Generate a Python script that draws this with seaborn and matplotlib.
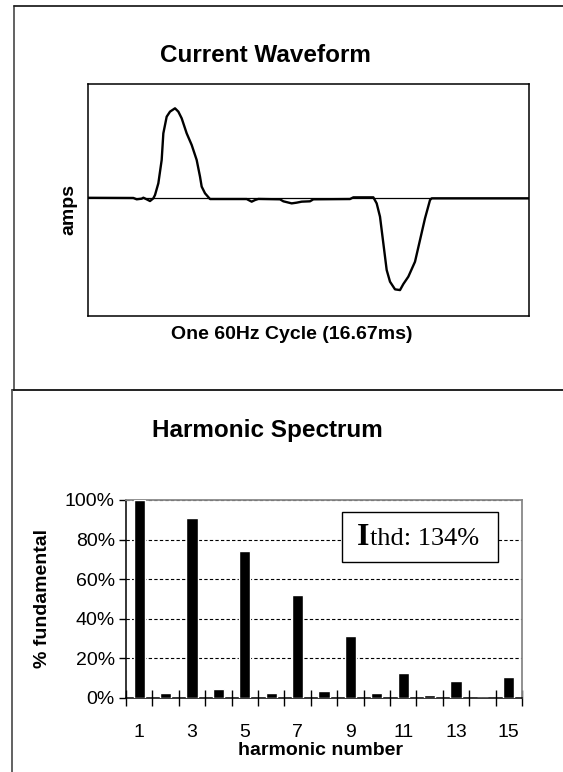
import numpy as np
import matplotlib
matplotlib.use("Agg")
import matplotlib.pyplot as plt
from matplotlib.lines import Line2D
from matplotlib.patches import Rectangle
from matplotlib.offsetbox import TextArea, HPacker, AnchoredOffsetbox
import seaborn as sns

# Current waveform over one 60Hz cycle (time in ms, amps normalised to peak)
wave_t = [0.0, 1.714, 1.840, 2.029, 2.092, 2.218, 2.344, 2.470, 2.533, 2.659,
          2.785, 2.848, 2.974, 3.100, 3.289, 3.415, 3.541, 3.730, 3.919, 4.108,
          4.234, 4.297, 4.423, 4.612, 5.998, 6.187, 6.313, 6.439, 7.258, 7.384,
          7.699, 7.888, 8.077, 8.392, 8.518, 9.904, 10.030, 10.534, 10.786, 10.912,
          11.038, 11.164, 11.290, 11.416, 11.605, 11.794, 11.920, 12.109, 12.361,
          12.550, 12.739, 12.928, 12.991, 16.67]
wave_amps = [0.006, 0.004, -0.011, -0.004, 0.007, -0.011, -0.030, 0.0, 0.037, 0.167,
             0.426, 0.722, 0.907, 0.963, 1.0, 0.963, 0.889, 0.722, 0.593, 0.426,
             0.241, 0.130, 0.056, -0.008, -0.008, -0.037, -0.019, -0.007, -0.011, -0.033,
             -0.056, -0.048, -0.037, -0.033, -0.011, -0.008, 0.011, 0.011, 0.011, -0.056,
             -0.204, -0.500, -0.796, -0.926, -1.011, -1.019, -0.952, -0.870, -0.704,
             -0.463, -0.222, -0.019, 0.0, 0.0]

# Harmonic spectrum (% of fundamental)
harmonic_order = [str(n) for n in range(1, 16)]
harmonic_pct = [100, 2.5, 91, 4.5, 74, 2.5, 52, 3.5, 31.5, 2.5, 12.5, 1.5, 8.5, 0, 10.5]
pct_ticks = [0, 20, 40, 60, 80, 100]
thd_value = "134%"

sns.set_theme(style="white")
plt.rcParams["font.family"] = ["Liberation Sans", "DejaVu Sans"]
plt.rcParams.update({
    "text.color": "black",
    "axes.labelcolor": "black",
    "xtick.color": "black",
    "ytick.color": "black",
})

W, H = 563, 772
fig = plt.figure(figsize=(W / 100, H / 100), dpi=100)


def fx(px):
    return px / W


def fy(py):
    return 1 - py / H


# panel frames
frame_kw = dict(transform=fig.transFigure, lw=1.3)
fig.add_artist(Line2D([fx(14), fx(14)], [fy(6), fy(390)], color="#555555", **frame_kw))
fig.add_artist(Line2D([fx(14), 1], [fy(6), fy(6)], color="#222222", **frame_kw))
fig.add_artist(Line2D([fx(12), 1], [fy(390), fy(390)], color="#111111", **frame_kw))
fig.add_artist(Line2D([fx(12), fx(12)], [fy(390), 0], color="#555555", **frame_kw))

# ---- top: current waveform ----
ax1 = fig.add_axes([fx(88), fy(316), fx(529 - 88), (316 - 84) / H])
sns.lineplot(x=wave_t, y=wave_amps, color="black", lw=1.7, ax=ax1, sort=False)
ax1.axhline(0, color="black", lw=0.9, zorder=1)
ax1.set_xlim(0, 16.67)
ax1.set_ylim(-1.307, 1.27)
ax1.set_xticks([])
ax1.set_yticks([])
for sp in ax1.spines.values():
    sp.set_visible(True)
    sp.set_color("black")
    sp.set_linewidth(1.1)
ax1.set_xlabel("One 60Hz Cycle (16.67ms)", fontsize=14, fontweight="bold")
ax1.xaxis.set_label_coords(0.463, -0.045)
ax1.set_ylabel("amps", fontsize=14, fontweight="bold")
ax1.yaxis.set_label_coords(-0.025, 0.457)
fig.text(fx(265), fy(55), "Current Waveform", ha="center", va="center",
         fontsize=17.5, fontweight="bold")

# ---- bottom: harmonic spectrum ----
ax2 = fig.add_axes([fx(126), fy(698), fx(522 - 126), (698 - 500) / H])
sns.barplot(x=harmonic_order, y=harmonic_pct, order=harmonic_order, color="black",
            saturation=1, width=0.42, ax=ax2, zorder=3)
ax2.set_xlim(-0.5, len(harmonic_order) - 0.5)
ax2.set_ylim(0, 100)
ax2.set_yticks(pct_ticks)
ax2.set_yticklabels([f"{v}%" for v in pct_ticks], fontsize=14)
ax2.yaxis.grid(True, color="black", lw=0.8, linestyle=(0, (3, 2)))
ax2.xaxis.grid(False)
ax2.set_axisbelow(True)

# tick marks between categories, labels at odd harmonics
ax2.set_xticks(np.arange(-0.5, len(harmonic_order), 1.0))
ax2.set_xticklabels([])
ax2.set_xticks(np.arange(0, len(harmonic_order), 2), minor=True)
ax2.set_xticklabels(harmonic_order[::2], minor=True, fontsize=14)
ax2.tick_params(axis="x", which="major", direction="inout", length=11, width=1,
                color="black", bottom=True)
ax2.tick_params(axis="x", which="minor", length=0, pad=19)
ax2.tick_params(axis="y", direction="out", length=5, width=1, color="black",
                left=True, pad=3)

for side in ["left", "bottom"]:
    ax2.spines[side].set_color("black")
    ax2.spines[side].set_linewidth(1.1)
for side in ["top", "right"]:
    ax2.spines[side].set_color("#888888")
    ax2.spines[side].set_linewidth(1.3)

ax2.set_xlabel("harmonic number", fontsize=14, fontweight="bold")
ax2.xaxis.set_label_coords(0.49, -0.222)
ax2.set_ylabel("% fundamental", fontsize=14, fontweight="bold")
ax2.yaxis.set_label_coords(-0.19, 0.505)
fig.text(fx(267), fy(430), "Harmonic Spectrum", ha="center", va="center",
         fontsize=17.5, fontweight="bold")

# THD box
ax2.add_patch(Rectangle((0.545, 0.687), 0.394, 0.252, transform=ax2.transAxes,
                        facecolor="white", edgecolor="black", lw=1.0, zorder=4))
serif = ["Liberation Serif", "DejaVu Serif"]
ta_i = TextArea("I", textprops=dict(family=serif, fontsize=23, fontweight="bold"))
ta_rest = TextArea(f"thd: {thd_value}", textprops=dict(family=serif, fontsize=19))
box = HPacker(children=[ta_i, ta_rest], align="baseline", pad=0, sep=0)
anch = AnchoredOffsetbox(loc="center", child=box, frameon=False, pad=0,
                         bbox_to_anchor=(0.737, 0.81), bbox_transform=ax2.transAxes,
                         borderpad=0)
anch.set_zorder(5)
ax2.add_artist(anch)

fig.savefig("out.png", dpi=100, facecolor="white")
